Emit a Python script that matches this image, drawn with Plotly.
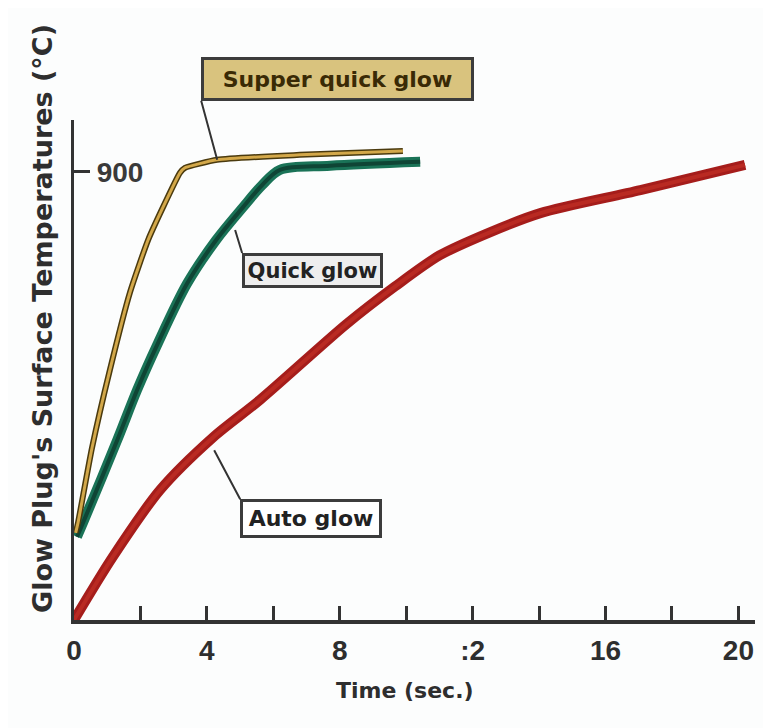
import plotly.graph_objects as go

# ---- data ----
super_t = [0.05, 0.12, 0.54, 1.08, 1.69, 2.23, 2.68, 3.19, 3.34, 4.31, 6.8, 9.9]
super_T = [175, 195, 345, 502, 659, 763, 829, 898, 908, 924, 934, 942]

quick_t = [0.09, 0.27, 1.30, 1.90, 2.50, 3.40, 4.28, 5.09, 5.66, 6.20, 7.71, 10.42]
quick_T = [167, 195, 361, 462, 552, 675, 763, 829, 873, 904, 912, 920]

auto_t = [0.0, 1.17, 2.59, 4.19, 5.6, 8.2, 9.67, 11.0, 12.5, 14.04, 17.05, 20.2]
auto_T = [0, 127, 261, 367, 442, 594, 670, 732, 778, 817, 863, 914]

x_tickvals = [0, 2, 4, 6, 8, 10, 12, 14, 16, 18, 20]
x_ticktext = ["0", "", "4", "", "8", "", ":2", "", "16", "", "20"]
y_tickvals = [900]
y_ticktext = ["900"]

labels = ["Supper quick glow", "Quick glow", "Auto glow"]

BOLDF = "DejaVu Sans, Verdana, sans-serif"
TICKF = "Liberation Sans, Arial, sans-serif"
INK = "#2e2e2e"

fig = go.Figure()

# auto glow (red)
fig.add_trace(go.Scatter(x=auto_t, y=auto_T, mode="lines",
                         line=dict(color="#a51d1b", width=10, shape="spline", smoothing=0.8),
                         hoverinfo="skip", showlegend=False))
fig.add_trace(go.Scatter(x=auto_t, y=auto_T, mode="lines",
                         line=dict(color="#b92a22", width=4, shape="spline", smoothing=0.8),
                         hoverinfo="skip", showlegend=False))
# quick glow (green)
fig.add_trace(go.Scatter(x=quick_t, y=quick_T, mode="lines",
                         line=dict(color="#1a7357", width=10, shape="spline", smoothing=0.9),
                         hoverinfo="skip", showlegend=False))
fig.add_trace(go.Scatter(x=quick_t, y=quick_T, mode="lines",
                         line=dict(color="#0f4535", width=4, shape="spline", smoothing=0.9),
                         hoverinfo="skip", showlegend=False))
# super quick glow (gold with dark edge)
fig.add_trace(go.Scatter(x=super_t, y=super_T, mode="lines",
                         line=dict(color="#4a3a0e", width=6, shape="spline", smoothing=0.5),
                         hoverinfo="skip", showlegend=False))
fig.add_trace(go.Scatter(x=super_t, y=super_T, mode="lines",
                         line=dict(color="#d3a84a", width=3, shape="spline", smoothing=0.5),
                         hoverinfo="skip", showlegend=False))

ann = []
ann.append(dict(x=4.31, y=924, xref="x", yref="y", ax=-16, ay=-59,
                text="<b>" + labels[0] + "</b>", showarrow=True, arrowhead=0,
                arrowwidth=2, arrowcolor="#333333",
                xanchor="left", yanchor="bottom", width=263, height=34,
                font=dict(family=BOLDF, size=22, color="#3a2a05"),
                bgcolor="#d9c37e", bordercolor="#3c3c3c", borderwidth=3, borderpad=2))
ann.append(dict(x=4.85, y=783, xref="x", yref="y", ax=7, ay=23,
                text="<b>" + labels[1] + "</b>", showarrow=True, arrowhead=0,
                arrowwidth=2, arrowcolor="#333333",
                xanchor="left", yanchor="top", width=133, height=27,
                font=dict(family=BOLDF, size=21, color="#222222"),
                bgcolor="#eeeeee", bordercolor="#3c3c3c", borderwidth=3, borderpad=1))
ann.append(dict(x=4.22, y=341, xref="x", yref="y", ax=26, ay=49,
                text="<b>" + labels[2] + "</b>", showarrow=True, arrowhead=0,
                arrowwidth=2, arrowcolor="#333333",
                xanchor="left", yanchor="top", width=132, height=29,
                font=dict(family=BOLDF, size=22, color="#222222"),
                bgcolor="#ffffff", bordercolor="#3c3c3c", borderwidth=3, borderpad=2))
# axis titles
ann.append(dict(x=-0.047, y=0.604, xref="paper", yref="paper", showarrow=False,
                text="<b>Glow Plug's Surface Temperatures (°C)</b>", textangle=-90,
                font=dict(family=BOLDF, size=27, color=INK),
                xanchor="center", yanchor="middle"))
ann.append(dict(x=0.486, y=-0.14, xref="paper", yref="paper", showarrow=False,
                text="<b>Time (sec.)</b>",
                font=dict(family=BOLDF, size=22, color=INK),
                xanchor="center", yanchor="middle"))

fig.update_layout(
    width=763, height=720,
    margin=dict(l=66, r=16, t=112, b=108),
    paper_bgcolor="#fcfdfd", plot_bgcolor="#fcfdfd",
    annotations=ann,
    showlegend=False,
)
fig.update_xaxes(range=[0, 20.5], showgrid=False, zeroline=False,
                 showline=True, linecolor="#333333", linewidth=4,
                 ticks="inside", ticklen=14, tickwidth=2.5, tickcolor="#333333",
                 tickvals=x_tickvals, ticktext=x_ticktext,
                 ticklabelstandoff=2,
                 tickfont=dict(family=TICKF, size=28, color=INK, weight="bold"))
fig.update_yaxes(range=[0, 1004], showgrid=False, zeroline=False,
                 showline=True, linecolor="#333333", linewidth=3,
                 ticks="inside", ticklen=16, tickwidth=3, tickcolor="#333333",
                 tickvals=y_tickvals, ticktext=y_ticktext,
                 ticklabelposition="outside", ticklabelstandoff=-78,
                 tickfont=dict(family=TICKF, size=28, color="#3a3a3a", weight="bold"))

fig.write_html("out.html")
